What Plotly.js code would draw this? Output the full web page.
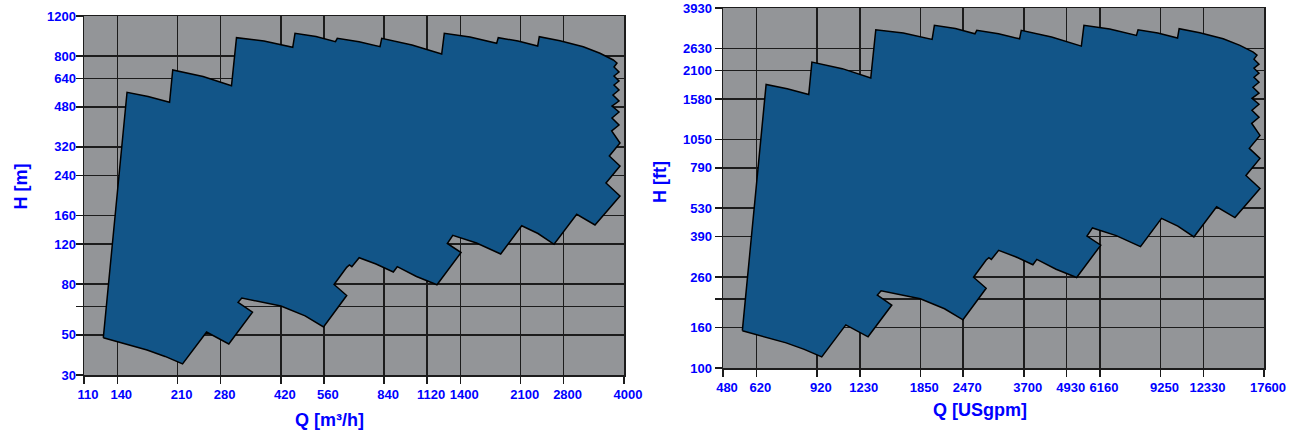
<!DOCTYPE html>
<html>
<head>
<meta charset="utf-8">
<script src="https://cdn.plot.ly/plotly-3.0.1.min.js"></script>
<style>html,body{margin:0;padding:0;background:#fff;}#chart{width:1299px;height:438px;}</style>
</head>
<body>
<div id="chart"></div>
<script>
// Operating range envelope, flow Q in m³/h
const Q_m3h = [127.5, 149.5, 172.2, 198.9, 203.2, 249.0, 301.4, 311.7, 374.9, 454.6, 461.6, 531.5, 605.7, 613.1, 709.5, 816.8, 826.1, 1012.2, 1235.5, 1257.2, 1494.1, 1787.0, 1806.2, 2061.9, 2353.2, 2378.7, 2732.8, 3195.4, 3575, 3909, 4007,
  3928, 4062, 3928, 4062, 3928, 4062, 3901, 4062, 3875, 4062, 3875, 4062, 3867, 4089, 3806, 4089, 3722, 4089, 3457,
  3058, 2626, 2358, 2114, 1836, 1561, 1331, 1283, 1407, 1197, 1043, 917, 893, 795, 710, 676, 665, 653, 600, 653, 559, 494, 420, 323, 315, 347, 296, 255, 217, 193, 171, 141, 127.5];
// Operating range envelope, head H in m
const H_m = [46.6, 555.5, 532.3, 502.1, 695.8, 651.6, 593.6, 963.9, 932.5, 874.9, 1007.6, 975.7, 925.8, 958.1, 925.8, 880.2, 958.1, 895.7, 817.6, 1007.6, 970.9, 911.0, 963.9, 932.5, 886.4, 973.8, 935.4, 880.2, 823.4, 769.6, 746.6,
  716.9, 681.6, 654.7, 622.5, 597.8, 568.5, 540.5, 508.8, 483.6, 455.4, 428.6, 399.3, 375.9, 332.9, 292.0, 264.0, 222.4, 195.0, 145.5,
  162.1, 119.7, 133.5, 144.4, 108.6, 121.3, 131.1, 120.7, 110.2, 79.6, 86.5, 95.5, 90.5, 98.1, 104.6, 95.5, 97.2, 94.9, 79.8, 71.4, 52.0, 58.1, 64.2, 69.6, 66.7, 60.3, 43.8, 49.4, 35.8, 38.6, 41.2, 44.9, 46.6];

// Grid lines (metric) and their printed labels
const qGrid_m3h = [112, 140, 210, 280, 420, 560, 840, 1120, 1400, 2100, 2800, 4200];
const qLabels_m3h = ['110', '140', '210', '280', '420', '560', '840', '1120', '1400', '2100', '2800', '4000'];
const hGrid_m = [32, 48, 64, 80, 120, 160, 240, 320, 480, 640, 800, 1200];
const hLabels_m = ['30', '50', '', '80', '120', '160', '240', '320', '480', '640', '800', '1200'];
// Printed labels for US units
const qLabels_gpm = ['480', '620', '920', '1230', '1850', '2470', '3700', '4930', '6160', '9250', '12330', '17600'];
const hLabels_ft = ['100', '160', '', '260', '390', '530', '790', '1050', '1580', '2100', '2630', '3930'];

const M3H_TO_GPM = 4.4029;
const M_TO_FT = 3.2808;

const Q_gpm = Q_m3h.map(v => v * M3H_TO_GPM);
const H_ft = H_m.map(v => v * M_TO_FT);
const qGrid_gpm = qGrid_m3h.map(v => v * M3H_TO_GPM);
const hGrid_ft = hGrid_m.map(v => v * M_TO_FT);

const FILL = '#125588';
const BG = '#939598';
const LBL = '#0000ff';
const FONT = 'Liberation Sans, Arial, sans-serif';

function poly(x, y, xa, ya) {
  return {x: x, y: y, xaxis: xa, yaxis: ya, type: 'scatter', mode: 'lines', fill: 'toself',
    fillcolor: FILL, line: {color: '#000', width: 1.5}, hoverinfo: 'skip', showlegend: false};
}

function axis(domain, anchor, vals, text, extra) {
  const lg = vals.map(Math.log10);
  return Object.assign({
    type: 'log', domain: domain, anchor: anchor,
    range: [lg[0], lg[lg.length - 1]],
    tickmode: 'array', tickvals: vals, ticktext: text,
    showgrid: true, gridcolor: '#1c1c1c', gridwidth: 1.5,
    showline: true, linecolor: '#1c1c1c', linewidth: 1.5, mirror: true,
    ticks: 'outside', ticklen: 7, tickwidth: 1.5, tickcolor: '#1c1c1c',
    tickfont: {family: FONT, size: 13, color: LBL, weight: 'bold'},
    zeroline: false, fixedrange: true
  }, extra || {});
}

const W = 1299, H = 438;
const px = v => v / W;
const py = v => 1 - v / H;
const titleFont = {family: FONT, size: 18, color: LBL, weight: 'bold'};

function title(text, x, y, angle) {
  return {text: text, xref: 'paper', yref: 'paper', x: px(x), y: py(y), xanchor: 'center', yanchor: 'middle',
    textangle: angle || 0, showarrow: false, font: titleFont};
}

const layout = {
  width: W, height: H,
  margin: {l: 0, r: 0, t: 0, b: 0},
  paper_bgcolor: '#ffffff',
  plot_bgcolor: BG,
  showlegend: false,
  xaxis: axis([px(84), px(624)], 'y', qGrid_m3h, qLabels_m3h, {ticklabelshift: 4}),
  yaxis: axis([py(375), py(16)], 'x', hGrid_m, hLabels_m, {ticklabelstandoff: -3}),
  xaxis2: axis([px(723), px(1264)], 'y2', qGrid_gpm, qLabels_gpm, {ticklabelshift: 4}),
  yaxis2: axis([py(368), py(8)], 'x2', hGrid_ft, hLabels_ft),
  annotations: [
    title('H [m]', 20.5, 187, -90),
    title('Q [m³/h]', 329, 420),
    title('H [ft]', 660, 182, -90),
    title('Q [USgpm]', 980, 410)
  ]
};

Plotly.newPlot('chart', [poly(Q_m3h, H_m, 'x', 'y'), poly(Q_gpm, H_ft, 'x2', 'y2')], layout,
  {staticPlot: true, displayModeBar: false});
</script>
</body>
</html>
